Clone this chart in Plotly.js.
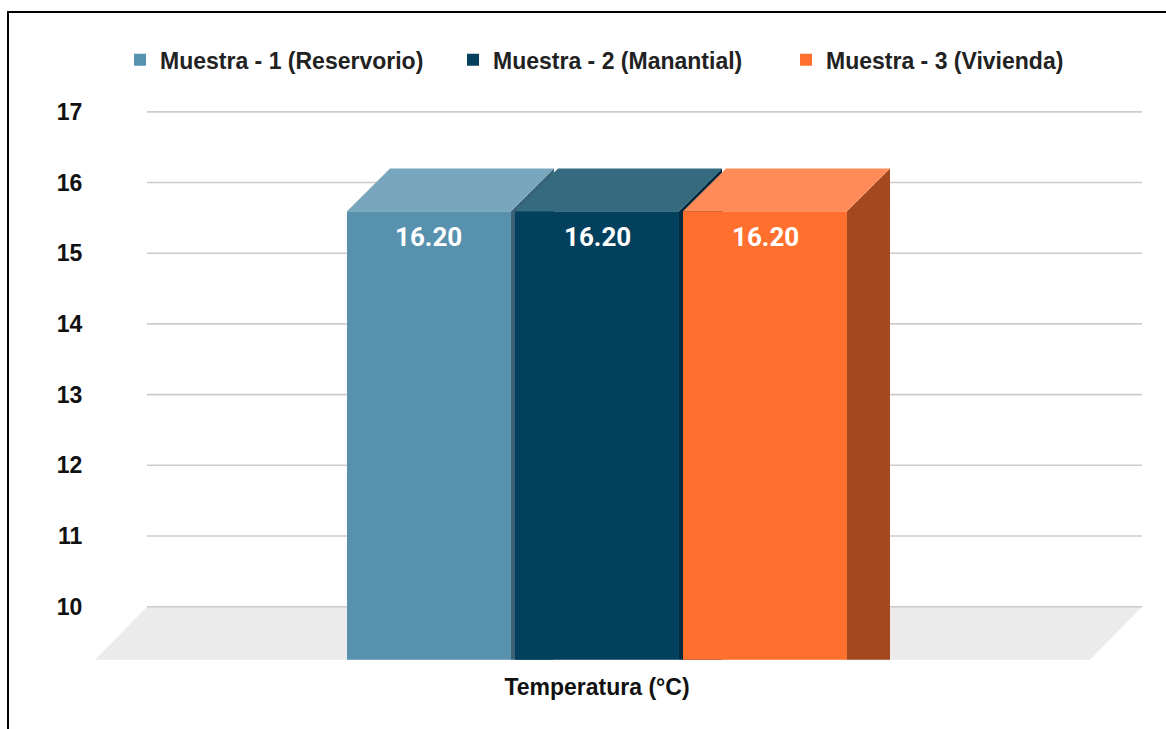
<!DOCTYPE html>
<html><head><meta charset="utf-8">
<script src="https://cdn.plot.ly/plotly-3.0.1.min.js"></script>
<style>
html,body{margin:0;padding:0;background:#fff;}
#wrap{position:relative;width:1166px;height:729px;overflow:hidden;}
#chart{width:1166px;height:729px;}
#frame{position:absolute;left:7px;top:11px;width:1300px;height:900px;border-left:2px solid #000;border-top:2px solid #000;pointer-events:none;}
</style></head><body>
<div id="wrap"><div id="chart"></div><div id="frame"></div></div>
<script>
// ---- data ----
const categories = ['Temperatura (°C)'];
const seriesNames = ['Muestra - 1 (Reservorio)', 'Muestra - 2 (Manantial)', 'Muestra - 3 (Vivienda)'];
const seriesValues = [16.20, 16.20, 16.20];
const frontColors = ['#5791AD', '#02405E', '#FF6F2E'];
const topColors = ['#78A7BD', '#356B7F', '#FF8B59'];
const sideColors = ['#3A6274', '#012B3F', '#A4481F'];
const yTicks = [10, 11, 12, 13, 14, 15, 16, 17];

// ---- geometry (axis units) ----
const xRange = [-2.988, 3.244];
const yRange = [9.175, 17.238];
const barStep = 1, barWidth = 0.976;
const depthX = 0.256, depthY = 0.608;
const floorDx = 0.3095, floorY = 10, floorFront = 9.25;

const FONT = 'Liberation Sans, Arial, sans-serif';
const traces = [];
const shapes = [];
const annotations = [];

// floor
shapes.push({type:'path', xref:'x', yref:'y', layer:'below',
  path:`M${xRange[0]},${floorFront} L${xRange[1]-floorDx},${floorFront} L${xRange[1]},${floorY} L${xRange[0]+floorDx},${floorY} Z`,
  fillcolor:'#EBEBEB', line:{width:0}});
// gridlines on back wall
yTicks.forEach(t => shapes.push({type:'line', xref:'x', yref:'y', layer:'below',
  x0:xRange[0]+floorDx, x1:xRange[1], y0:t, y1:t, line:{color:'#CCCCCC', width:1.6}}));

seriesNames.forEach((name, i) => {
  const v = seriesValues[i];
  const cx = 0 + (i - (seriesNames.length - 1) / 2) * barStep;
  const xl = cx - barWidth / 2, xr = cx + barWidth / 2;
  const yf = v - depthY;
  traces.push({type:'bar', name:name, x:[0], y:[yf - floorFront], base:[floorFront],
    offset:(i - (seriesNames.length - 1) / 2) * barStep - barWidth / 2, width:barWidth,
    marker:{color:frontColors[i], line:{width:0}}, hoverinfo:'skip', textposition:'none'});
  // side face (below traces, drawn in order)
  shapes.push({type:'path', xref:'x', yref:'y', layer:'below',
    path:`M${xr},${floorFront} L${xr},${yf} L${xr+depthX},${v} L${xr+depthX},${floorFront} Z`,
    fillcolor:sideColors[i], line:{width:0}});
  // top face
  shapes.push({type:'path', xref:'x', yref:'y', layer:'above',
    path:`M${xl},${yf} L${xr},${yf} L${xr+depthX},${v} L${xl+depthX},${v} Z`,
    fillcolor:topColors[i], line:{width:0}});
  annotations.push({x:cx, y:yf, xref:'x', yref:'y', yshift:-26, yanchor:'middle', xanchor:'center',
    text:v.toFixed(2), showarrow:false,
    font:{family:'Roboto, sans-serif', size:26, color:'#FFFFFF', weight:700}});
});

const layout = {
  width:1166, height:729,
  margin:{l:95, r:24, t:95, b:64},
  paper_bgcolor:'#FFFFFF', plot_bgcolor:'rgba(0,0,0,0)',
  barmode:'overlay',
  showlegend:true,
  legend:{orientation:'h', x:0.0239, xanchor:'left', y:1.0616, yanchor:'middle',
    font:{family:FONT, size:23, color:'#222222', weight:700}, entrywidth:288, entrywidthmode:'pixels',
    bgcolor:'rgba(0,0,0,0)', traceorder:'normal'},
  xaxis:{range:xRange, tickvals:[0], ticktext:categories, showgrid:false, zeroline:false, showline:false,
    ticks:'outside', ticklen:1, tickcolor:'rgba(0,0,0,0)',
    tickfont:{family:FONT, size:23, color:'#111111', weight:700}, fixedrange:true},
  yaxis:{range:yRange, tickvals:yTicks, showgrid:false, zeroline:false, showline:false,
    ticks:'outside', ticklen:7, tickcolor:'rgba(0,0,0,0)',
    tickfont:{family:FONT, size:23, color:'#111111', weight:700}, fixedrange:true},
  shapes:shapes, annotations:annotations
};
Plotly.newPlot('chart', traces, layout, {displayModeBar:false, staticPlot:true});
</script>
</body></html>
